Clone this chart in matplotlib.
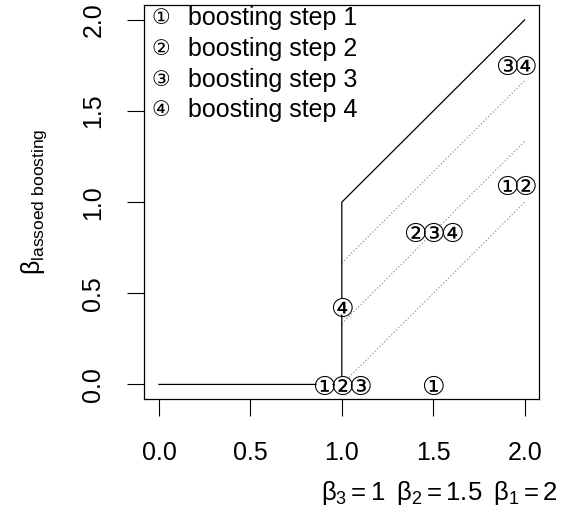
import matplotlib
matplotlib.use("Agg")
import matplotlib.pyplot as plt
from matplotlib.transforms import offset_copy

plt.rcParams['font.family'] = ['Liberation Sans', 'DejaVu Sans']
plt.rcParams['mathtext.fontset'] = 'custom'
plt.rcParams['mathtext.rm'] = 'Liberation Sans'
plt.rcParams['mathtext.it'] = 'Liberation Sans'
plt.rcParams['mathtext.bf'] = 'Liberation Sans:bold'

# thresholding curve of lassoed boosting
curve_x = [0, 1, 1, 2]
curve_y = [0, 0, 1, 2]

# dotted shifted lines, from x=1 to x=2
dot_x = [1, 2]
dot_start = [2 / 3, 1 / 3, 0]
dot_end = [5 / 3, 4 / 3, 1]

# positions of circled step labels
steps = ['①', '②', '③', '④']
step_x = [[0.9, 1.5, 1.9], [1.0, 1.4, 2.0], [1.1, 1.5, 1.9], [1.0, 1.6, 2.0]]
step_y = [[0, 0, 1.1], [0, 0.84, 1.1], [0, 0.84, 1.76], [0.43, 0.84, 1.76]]
legend_labels = ['boosting step 1', 'boosting step 2', 'boosting step 3', 'boosting step 4']

ticks = [0.0, 0.5, 1.0, 1.5, 2.0]
tick_labels = ['0.0', '0.5', '1.0', '1.5', '2.0']

fig = plt.figure(figsize=(5.64, 5.12), dpi=100)
ax = fig.add_axes([0.2559, 0.2207, 0.7003, 0.7689])

ax.plot(curve_x, curve_y, color='black', lw=0.9, zorder=2)
for s, e in zip(dot_start, dot_end):
    ax.plot(dot_x, [s, e], color='#808080', lw=0.8, ls=(0, (1, 2)), zorder=1)

# glyphs sit a little high when centred, nudge them down
glyph_tr = offset_copy(ax.transData, fig=fig, x=0, y=-4, units='dots')
for lab, xs, ys in zip(steps, step_x, step_y):
    ax.plot(xs, ys, 'o', ms=11.5, mfc='white', mec='none', zorder=3)
    for x, y in zip(xs, ys):
        ax.text(x, y, lab, family='DejaVu Sans', fontsize=19, ha='center',
                va='center', zorder=4, transform=glyph_tr)

leg_y = [0.9678, 0.889, 0.810, 0.734]
for lab, txt, y in zip(steps, legend_labels, leg_y):
    ax.text(0.0415, y, lab, family='DejaVu Sans', fontsize=15, ha='center',
            va='center', transform=ax.transAxes)
    ax.text(0.1106, y, txt, fontsize=18, ha='left', va='center',
            transform=ax.transAxes)

ax.set_xlim(-0.08, 2.08)
ax.set_ylim(-0.08, 2.08)
ax.set_xticks(ticks)
ax.set_xticklabels(tick_labels, fontsize=18)
ax.set_yticks(ticks)
ax.set_yticklabels(tick_labels, fontsize=18, rotation=90, va='center')
ax.tick_params(axis='x', length=12, width=0.8, pad=18)
ax.tick_params(axis='y', length=12, width=0.8, pad=16)
for sp in ax.spines.values():
    sp.set_linewidth(0.9)

ax.set_ylabel(r'$\beta_{\mathrm{lassoed\ boosting}}$', fontsize=18)
ax.yaxis.set_label_coords(-0.242, 0.5)
fig.text(557 / 564, 1 - 493 / 512,
         r'$\beta_3 = 1\;\;\beta_2 = 1.5\;\;\beta_1 = 2$',
         fontsize=18.5, ha='right', va='center')

fig.savefig('out.png', dpi=100)
